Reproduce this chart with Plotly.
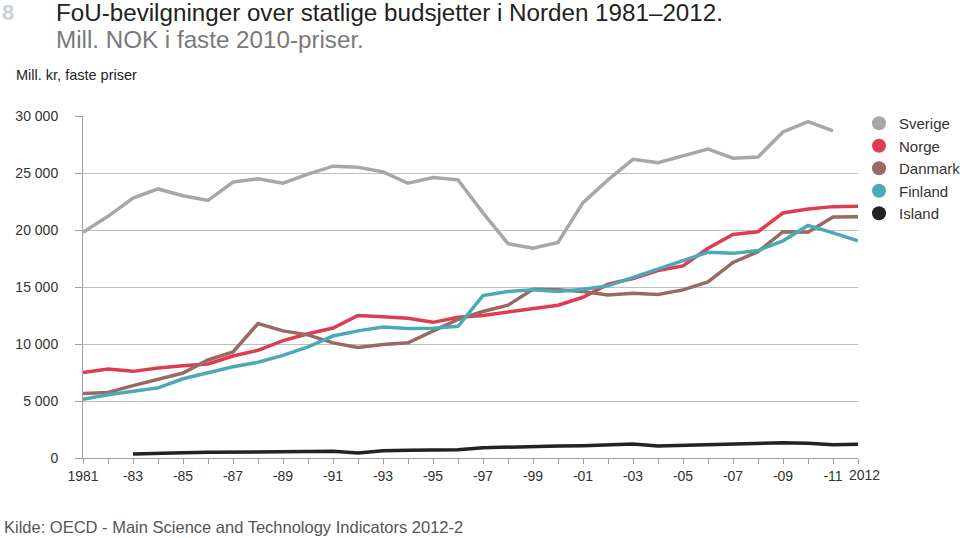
import plotly.graph_objects as go

years = list(range(1981, 2013))

sverige = [19800, 21200, 22800, 23600, 23000, 22600, 24200, 24500, 24100, 24900,
           25600, 25500, 25100, 24100, 24600, 24400, 21500, 18800, 18400, 18900,
           22400, 24400, 26200, 25900, 26500, 27100, 26300, 26400, 28600, 29500,
           28700, None]
norge = [7500, 7800, 7600, 7900, 8100, 8250, 8950, 9450, 10300, 10900,
         11400, 12500, 12400, 12250, 11900, 12350, 12500, 12800, 13100, 13400,
         14100, 15250, 15750, 16450, 16850, 18400, 19600, 19850, 21500, 21850,
         22050, 22080]
danmark = [5650, 5750, 6350, 6900, 7450, 8600, 9300, 11800, 11150, 10800,
           10100, 9700, 9950, 10100, 11150, 12150, 12850, 13400, 14800, 14750,
           14600, 14300, 14450, 14350, 14750, 15450, 17150, 18100, 19850, 19800,
           21150, 21170]
finland = [5150, 5550, 5850, 6150, 6950, 7500, 8000, 8400, 9000, 9750,
           10700, 11150, 11500, 11350, 11380, 11550, 14250, 14600, 14750, 14600,
           14800, 15100, 15850, 16600, 17300, 18050, 17950, 18200, 19050, 20400,
           19750, 19050]
island = [None, None, 350, 440, 470, 500, 525, 530, 550, 560,
          585, 440, 640, 670, 700, 730, 900, 965, 990, 1050,
          1080, 1170, 1230, 1050, 1110, 1140, 1200, 1260, 1345, 1290,
          1170, 1200]

series_names = ["Sverige", "Norge", "Danmark", "Finland", "Island"]
series_values = [sverige, norge, danmark, finland, island]
series_colors = ["#A7A7A7", "#DE3D51", "#9B6963", "#4AAAB8", "#222222"]

xtick_vals = list(range(1981, 2012, 2)) + [2012]
xtick_text = (["1981"] + ["-%02d" % (y % 100) for y in range(1983, 2012, 2)] + [""])
last_year_label = "2012"
ytick_vals = [0, 5000, 10000, 15000, 20000, 25000, 30000]
ytick_text = ["0", "5 000", "10 000", "15 000", "20 000", "25 000", "30 000"]

FONT = "Liberation Sans, Arial, sans-serif"

W, H = 960, 538
L, R, T, B = 83, 102, 116, 80
PW, PH = W - L - R, H - T - B  # 775 x 342

fig = go.Figure()
for name, vals, col in zip(series_names, series_values, series_colors):
    fig.add_trace(go.Scatter(x=years, y=vals, mode="lines", name=name,
                             line=dict(color=col, width=3.5),
                             showlegend=False, cliponaxis=False,
                             connectgaps=False))
for name, col in zip(series_names, series_colors):
    fig.add_trace(go.Scatter(x=[None], y=[None], mode="markers", name=name,
                             marker=dict(color=col, size=14)))

fig.update_layout(
    width=W, height=H,
    margin=dict(l=L, r=R, t=T, b=B, autoexpand=False),
    paper_bgcolor="white", plot_bgcolor="white",
    font=dict(family=FONT, size=14, color="#333333"),
    showlegend=True,
    legend=dict(xref="container", yref="container",
                x=859/W, xanchor="left", y=1 - 107/H, yanchor="top",
                font=dict(size=15, color="#333333"),
                bgcolor="rgba(0,0,0,0)", tracegroupgap=0),
    xaxis=dict(range=[1981, 2012], tickvals=xtick_vals, ticktext=xtick_text,
               tickangle=0, automargin=False,
               showgrid=False, zeroline=False, showline=True,
               linecolor="#A0A0A0", linewidth=1,
               ticks="outside", ticklen=5, tickcolor="#A0A0A0",
               minor=dict(ticks="outside", dtick=1, tick0=1981, ticklen=5,
                          tickcolor="#A0A0A0", showgrid=False),
               tickfont=dict(size=14, color="#333333")),
    yaxis=dict(range=[0, 30000], tickvals=ytick_vals, ticktext=ytick_text,
               automargin=False,
               showgrid=True, gridcolor="#BEBEBE", gridwidth=1,
               zeroline=False, showline=True, linecolor="#A0A0A0", linewidth=1,
               ticks="outside", ticklen=7, tickcolor="#A0A0A0",
               ticklabelstandoff=14,
               tickfont=dict(size=14, color="#333333")),
)

# last x label, nudged right as in the original
fig.add_annotation(xref="x", yref="paper", x=2012, y=0, yshift=-17, xshift=6,
                   xanchor="center", yanchor="middle", showarrow=False,
                   text=last_year_label, font=dict(size=14, color="#333333", family=FONT))

fig.add_annotation(xref="paper", yref="paper", x=-83/PW, y=1 + 103/PH,
                   xanchor="left", yanchor="middle", showarrow=False,
                   text="<b>8</b>", font=dict(size=22, color="#C9D2DA", family=FONT))
fig.add_annotation(xref="paper", yref="paper", x=-29/PW, y=1 + 103/PH,
                   xanchor="left", yanchor="middle", showarrow=False,
                   text="FoU-bevilgninger over statlige budsjetter i Norden 1981\u20132012.",
                   font=dict(size=24.2, color="#222222", family=FONT))
fig.add_annotation(xref="paper", yref="paper", x=-29/PW, y=1 + 77/PH,
                   xanchor="left", yanchor="middle", showarrow=False,
                   text="Mill. NOK i faste 2010-priser.",
                   font=dict(size=24.2, color="#7A7A7A", family=FONT))
fig.add_annotation(xref="paper", yref="paper", x=-69/PW, y=1 + 41/PH,
                   xanchor="left", yanchor="middle", showarrow=False,
                   text="Mill. kr, faste priser",
                   font=dict(size=14.5, color="#222222", family=FONT))
fig.add_annotation(xref="paper", yref="paper", x=-81/PW, y=-69/PH,
                   xanchor="left", yanchor="middle", showarrow=False,
                   text="Kilde: OECD - Main Science and Technology Indicators 2012-2",
                   font=dict(size=16.5, color="#555555", family=FONT))

# remove the default 8px page margin so the 960x538 figure fills the window
fig.write_html("out.html", config={"displayModeBar": False},
               post_script="document.body.style.margin='0';")
